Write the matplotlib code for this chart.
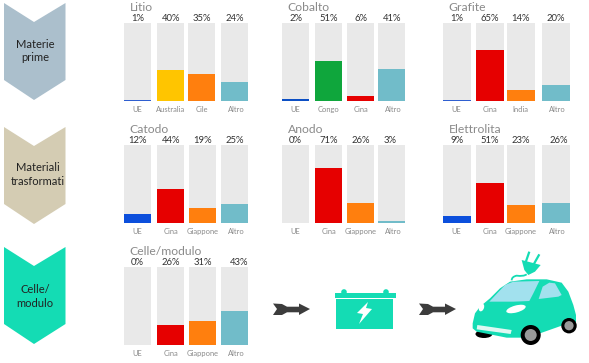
import matplotlib
matplotlib.use('Agg')
import matplotlib.pyplot as plt
from matplotlib.patches import Polygon, Rectangle, Circle, Ellipse, PathPatch
from matplotlib.path import Path

W, H = 589, 363

titles = ['Litio', 'Cobalto', 'Grafite', 'Catodo', 'Anodo', 'Elettrolita', 'Celle/modulo']
countries = [
    ['UE', 'Australia', 'Cile', 'Altro'],
    ['UE', 'Congo', 'Cina', 'Altro'],
    ['UE', 'Cina', 'India', 'Altro'],
    ['UE', 'Cina', 'Giappone', 'Altro'],
    ['UE', 'Cina', 'Giappone', 'Altro'],
    ['UE', 'Cina', 'Giappone', 'Altro'],
    ['UE', 'Cina', 'Giappone', 'Altro'],
]
shares = [
    [1, 40, 35, 24],
    [2, 51, 6, 41],
    [1, 65, 14, 20],
    [12, 44, 19, 25],
    [0, 71, 26, 3],
    [9, 51, 23, 26],
    [0, 26, 31, 43],
]
bar_colors = [
    ['#2f5fd0', '#ffc500', '#ff7f0e', '#71bcc9'],
    ['#0c4fc4', '#0fa63c', '#e60000', '#71bcc9'],
    ['#2f5fd0', '#e60000', '#ff7f0e', '#71bcc9'],
    ['#0c4fdc', '#e60000', '#ff7f0e', '#71bcc9'],
    ['#0c4fdc', '#e60000', '#ff7f0e', '#71bcc9'],
    ['#0c4fdc', '#e60000', '#ff7f0e', '#71bcc9'],
    ['#0c4fdc', '#e60000', '#ff7f0e', '#71bcc9'],
]
# layout in pixels: left edge of each bar, bar width, panel top/bottom
bar_left = [
    [124, 157, 188, 221],
    [282, 315, 347, 378],
    [443, 476, 507, 542],
    [124, 157, 189, 221],
    [282, 315, 347, 378],
    [443, 476, 507, 542],
    [124, 157, 189, 221],
]
bar_w = 27.5
panel_y = [(23, 101), (23, 101), (23, 101), (145, 223), (145, 223), (145, 223), (267, 345)]
# pixel nudges of the % labels that are not centred on their bar
pct_shift = {(4, 3): -2, (5, 3): 3, (6, 3): 4}

chevrons = [('Materie\nprime', 3, 35, 48, '#abbfcc'), ('Materiali\ntrasformati', 127, 37.5, 47.5, '#d4ccb3'),
            ('Celle/\nmodulo', 247, 35, 49.5, '#14dcb4')]

plt.rcParams['font.family'] = ['Lato', 'DejaVu Sans']
fig = plt.figure(figsize=(W / 100, H / 100), dpi=100)
bg = fig.add_axes([0, 0, 1, 1])
bg.set_xlim(0, W)
bg.set_ylim(H, 0)
bg.axis('off')

# chevrons on the left
for label, top, cx, mid, col in chevrons:
    pts = [(4, top), (34, top + 19), (65.5, top), (65.5, top + 77), (34, top + 97), (4, top + 77)]
    bg.add_patch(Polygon(pts, color=col, lw=0))
    bg.text(cx, top + mid, label, ha='center', va='center', fontsize=8, color='#222222', linespacing=1.3)

# small bar panels
for p, title in enumerate(titles):
    y_top, y_bot = panel_y[p]
    x0 = bar_left[p][0]
    x1 = bar_left[p][3] + bar_w
    ax = fig.add_axes([x0 / W, 1 - y_bot / H, (x1 - x0) / W, (y_bot - y_top) / H])
    ax.bar(bar_left[p], [100] * 4, width=bar_w, align='edge', color='#e9e9e9', lw=0)
    ax.bar(bar_left[p], shares[p], width=bar_w, align='edge', color=bar_colors[p], lw=0)
    ax.set_xlim(x0, x1)
    ax.set_ylim(0, 100)
    ax.axis('off')
    for i, v in enumerate(shares[p]):
        cx = bar_left[p][i] + bar_w / 2
        ax.text(cx + pct_shift.get((p, i), 0), 102, f'{v}%', ha='center', va='baseline', fontsize=6.8, color='#333333')
        nudge = 2 if i == 3 else 0
        ax.text(cx + nudge, -6.5, countries[p][i], ha='center', va='top', fontsize=5.4, color='#8a8a8a')
    ax.text(x0 + 5.5, 115.5, title, ha='left', va='baseline', fontsize=8.7, color='#8a8a8a')

# arrows between cell, battery and car
for x in (273, 419):
    shape = [(0, 303.5), (9, 304), (14, 306.7), (26, 306.7), (26, 303.5), (37, 309), (26, 315),
             (26, 312.3), (14, 312.3), (9, 315), (0, 315), (4, 309)]
    bg.add_patch(Polygon([(x + a, b) for a, b in shape], color='#3c3c3c', lw=0))

# battery
teal = '#14dcb4'
bg.add_patch(Rectangle((336, 299), 57, 30, color=teal, lw=0))
bg.add_patch(Rectangle((335, 293), 61, 5, color=teal, lw=0))
bg.add_patch(Circle((344, 292), 2.8, color=teal, lw=0))
bg.add_patch(Circle((386, 292), 2.8, color=teal, lw=0))
bg.add_patch(Polygon([(368, 302), (357, 313), (363, 314), (359, 324), (372, 309), (366, 308)], color='white', lw=0))


def z(pts):
    return [(260 + a / 3, 235 + b / 3) for a, b in pts]


# car
bg.add_patch(Ellipse((484, 334), 17, 8, color='black', lw=0, zorder=0.5))
body = [(638, 265), (645, 235), (660, 215), (690, 190), (720, 160), (750, 140), (800, 133), (860, 133),
        (905, 143), (925, 170), (940, 210), (948, 240), (948, 262), (905, 272), (840, 295), (790, 308),
        (740, 308), (690, 298), (650, 290), (638, 280)]
bg.add_patch(Polygon(z(body), color=teal, lw=0, zorder=1))
bg.add_patch(Polygon(z([(688, 200), (735, 150), (760, 140), (838, 138), (820, 175), (808, 198), (760, 200)]),
                     color='#a2e1ee', lw=0, zorder=2))
bg.add_patch(Polygon(z([(836, 192), (848, 155), (868, 143), (885, 145), (905, 180), (895, 185)]),
                     color='#a2e1ee', lw=0, zorder=2))
bg.add_patch(Ellipse((516, 309), 20, 7, angle=-15, color='white', lw=0, zorder=2))
bg.add_patch(Ellipse((481.5, 307.5), 5, 8, angle=20, color='white', lw=0, zorder=2))
bg.add_patch(Polygon(z([(652, 270), (755, 285), (752, 297), (650, 283)]), color='#dff8f2', lw=0, zorder=2))
# wheels
for cx, cy, r in [(530.7, 335, 10), (569, 325.7, 7.7)]:
    bg.add_patch(Circle((cx, cy), r, color='black', lw=0, zorder=3))
    bg.add_patch(Circle((cx, cy), r * 0.6, color='#999999', lw=0, zorder=4))
# plug and cable
cable = Path(z([(800, 118), (790, 125), (770, 122), (755, 125), (755, 136)]),
             [Path.MOVETO, Path.CURVE3, Path.CURVE3, Path.CURVE3, Path.CURVE3])
bg.add_patch(PathPatch(cable, fc='none', ec=teal, lw=1.3))
bg.add_patch(Polygon(z([(785, 75), (842, 90), (825, 110), (805, 120), (793, 105)]), color=teal, lw=0))
bg.plot(*zip(*z([(796, 85), (808, 50)])), color=teal, lw=1.6, solid_capstyle='butt')
bg.plot(*zip(*z([(820, 90), (838, 58)])), color=teal, lw=1.6, solid_capstyle='butt')

fig.savefig('out.png', dpi=100)
